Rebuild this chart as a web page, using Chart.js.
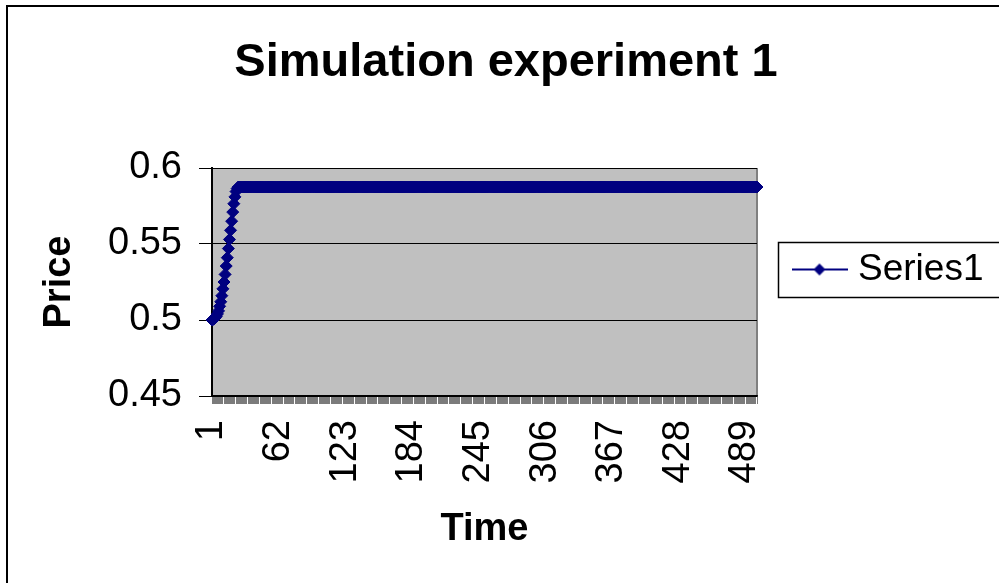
<!DOCTYPE html>
<html>
<head>
<meta charset="utf-8">
<title>Simulation experiment 1</title>
<script src="https://cdn.jsdelivr.net/npm/chart.js@4/dist/chart.umd.min.js"></script>
<style>
  html, body { margin: 0; padding: 0; background: #fff; }
  canvas { display: block; }
</style>
</head>
<body>
<canvas id="chart" width="999" height="583"></canvas>
<script>
// ------------------------------------------------------------
// data
// ------------------------------------------------------------
const seriesName = 'Series1';
const timeSteps = [];               // categories 1..500
for (let t = 1; t <= 500; t++) timeSteps.push(String(t));

// price during the first steps, before it settles
const risePrices = [
  0.5, 0.5003, 0.5008, 0.5015, 0.5025, 0.504, 0.506, 0.509, 0.512, 0.516,
  0.5205, 0.525, 0.53, 0.5355, 0.541, 0.547, 0.553, 0.559, 0.565, 0.571,
  0.5765, 0.581, 0.5845, 0.5865
];
// settled price, held for the rest of the run
const plateauPrice = 0.5875;
const plateauPrices = new Array(timeSteps.length - risePrices.length).fill(plateauPrice);
const prices = risePrices.concat(plateauPrices);

const labelEvery = 61;              // x labels 1, 62, 123, ... 489
const yTicks = { min: 0.45, max: 0.6, step: 0.05 };

// ------------------------------------------------------------
// colours / fonts
// ------------------------------------------------------------
const NAVY = '#000080';
const PLOT_BG = '#C0C0C0';
Chart.defaults.font.family = "'Liberation Sans', Arial, sans-serif";
Chart.defaults.color = '#000';

// legend sample: line with a diamond, like the Excel legend key
const legendKey = document.createElement('canvas');
legendKey.width = 56;
legendKey.height = 14;
(() => {
  const k = legendKey.getContext('2d');
  k.strokeStyle = NAVY;
  k.lineWidth = 2;
  k.beginPath(); k.moveTo(0, 7); k.lineTo(56, 7); k.stroke();
  k.fillStyle = NAVY;
  k.beginPath();
  k.moveTo(28, 1); k.lineTo(34, 7); k.lineTo(28, 13); k.lineTo(22, 7);
  k.closePath(); k.fill();
})();

// plot background, frame, legend box
const excelFrame = {
  id: 'excelFrame',
  beforeLayout(chart) {
    // fixed width for the legend column on the right
    const lg = chart.legend;
    if (lg && !lg._fixedFit) {
      const fit = lg.fit;
      lg.fit = function () { fit.call(this); this.width = 242; };
      lg._fixedFit = true;
    }
  },
  afterLayout(chart) {
    const lg = chart.legend;
    lg.left = 778; lg.right = 1010;
    lg.top = 242; lg.bottom = 297;
  },
  beforeDraw(chart) {
    const { ctx, chartArea: a } = chart;
    ctx.save();
    ctx.fillStyle = PLOT_BG;
    ctx.fillRect(a.left, a.top, a.right - a.left, a.bottom - a.top);
    ctx.strokeStyle = '#808080';
    ctx.lineWidth = 2;
    ctx.beginPath(); ctx.moveTo(a.right, a.top); ctx.lineTo(a.right, a.bottom); ctx.stroke();
    ctx.restore();
  },
  afterDraw(chart) {
    const ctx = chart.ctx;
    ctx.save();
    ctx.strokeStyle = '#000';
    ctx.lineWidth = 2;
    ctx.strokeRect(7, 6, 1100, 1100);
    ctx.lineWidth = 1.5;
    ctx.strokeRect(778.5, 242.5, 240, 55);
    ctx.restore();
  }
};

new Chart(document.getElementById('chart'), {
  type: 'line',
  data: {
    labels: timeSteps,
    datasets: [{
      label: seriesName,
      data: prices,
      borderColor: NAVY,
      backgroundColor: NAVY,
      borderWidth: 2,
      pointStyle: 'rectRot',
      pointRadius: 6,
      pointBorderWidth: 1,
      pointBackgroundColor: NAVY,
      pointBorderColor: NAVY,
      tension: 0
    }]
  },
  options: {
    responsive: false,
    animation: false,
    layout: { padding: { left: 13, right: 0, top: 0, bottom: 0 } },
    plugins: {
      title: {
        display: true,
        text: 'Simulation experiment 1',
        font: { size: 47, weight: 'bold', lineHeight: 1 },
        padding: { top: 40, bottom: 81 }
      },
      legend: {
        position: 'right',
        align: 'center',
        labels: {
          usePointStyle: true,
          pointStyleWidth: 40,
          padding: 21.5,
          font: { size: 37 },
          color: '#000',
          generateLabels(chart) {
            const items = Chart.defaults.plugins.legend.labels.generateLabels(chart);
            items.forEach(it => { it.pointStyle = legendKey; });
            return items;
          }
        }
      },
      tooltip: { enabled: false }
    },
    scales: {
      x: {
        type: 'category',
        offset: false,
        afterFit(scale) { scale.height = 187; },
        grid: { display: true, drawOnChartArea: false, drawTicks: true, tickLength: 8, color: '#222', lineWidth: 0.6 },
        border: { display: true, color: '#000', width: 2 },
        ticks: {
          autoSkip: false,
          minRotation: 90,
          maxRotation: 90,
          padding: 16,
          font: { size: 38 },
          callback(value, index) {
            return index % labelEvery === 0 ? this.getLabelForValue(value) : '';
          }
        },
        title: {
          display: true,
          text: 'Time',
          font: { size: 38, weight: 'bold', lineHeight: 1 },
          padding: { top: 0, bottom: 34 }
        }
      },
      y: {
        min: yTicks.min,
        max: yTicks.max,
        afterFit(scale) { scale.width = 199; },
        grid: { color: '#000', lineWidth: 1, drawTicks: true, tickLength: 13 },
        border: { display: true, color: '#000', width: 2 },
        ticks: {
          stepSize: yTicks.step,
          padding: 17,
          font: { size: 38 },
          callback: (v) => String(Number(v.toFixed(2)))
        },
        title: {
          display: true,
          text: 'Price',
          font: { size: 38, weight: 'bold', lineHeight: 1 },
          padding: { top: 28, bottom: 0 }
        }
      }
    }
  },
  plugins: [excelFrame]
});
</script>
</body>
</html>
